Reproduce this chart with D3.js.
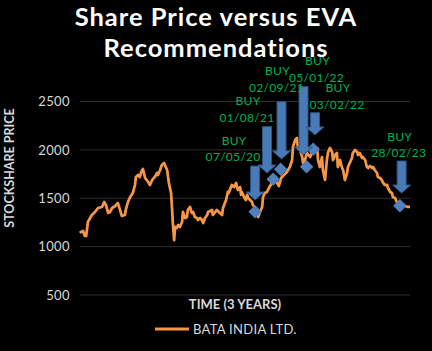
<!DOCTYPE html>
<html>
<head>
<meta charset="utf-8">
<script src="https://cdn.jsdelivr.net/npm/d3@7"></script>
<style>
  body { margin: 0; background: #000; }
  text { font-family: Lato, "Open Sans", sans-serif; }
</style>
</head>
<body>
<div id="chart"></div>
<script>
// trading day index over the 3 years and closing price
const tradingDay = [
  0, 2, 7, 11, 14, 18, 23, 27, 34, 41,
  50, 55, 59, 64, 68, 73, 80, 86, 91, 95,
  102, 105, 109, 114, 120, 125, 127, 132, 136, 139,
  143, 148, 155, 159, 164, 170, 175, 177, 182, 186,
  191, 195, 198, 202, 207, 209, 211, 214, 216, 220,
  223, 227, 232, 234, 239, 243, 245, 250, 254, 257,
  261, 266, 268, 273, 277, 280, 284, 289, 291, 300,
  302, 311, 318, 323, 325, 332, 336, 338, 345, 350,
  355, 357, 359, 364, 366, 368, 373, 377, 380, 382,
  391, 393, 398, 402, 405, 409, 414, 416, 420, 425,
  427, 432, 436, 441, 445, 448, 452, 457, 461, 466,
  470, 477, 482, 484, 489, 493, 495, 500, 505, 507,
  511, 516, 523, 530, 534, 539, 541, 545, 550, 552,
  557, 561, 564, 568, 573, 575, 580, 584, 586, 591,
  595, 598, 602, 607, 609, 614, 618, 620, 625, 630,
  632, 636, 641, 643, 648, 652, 655, 659, 664, 666,
  670, 675, 677, 682, 686, 689, 693, 698, 700, 705,
  709, 711, 716, 720, 723, 727, 732, 739, 745, 750
];
const price = [
  1141, 1151, 1162, 1110, 1110, 1255, 1296, 1327, 1358, 1399,
  1410, 1461, 1430, 1348, 1358, 1399, 1420, 1451, 1379, 1317,
  1327, 1399, 1461, 1513, 1554, 1637, 1720, 1740, 1720, 1771,
  1802, 1709, 1668, 1637, 1689, 1720, 1761, 1740, 1792, 1844,
  1864, 1823, 1792, 1658, 1554, 1410, 1244, 1068, 1203, 1193,
  1224, 1203, 1255, 1358, 1296, 1306, 1379, 1410, 1348, 1358,
  1306, 1296, 1275, 1296, 1275, 1244, 1296, 1327, 1358, 1379,
  1327, 1379, 1348, 1327, 1399, 1482, 1565, 1554, 1637, 1616,
  1658, 1616, 1585, 1616, 1534, 1565, 1513, 1482, 1534, 1503,
  1461, 1430, 1399, 1327, 1306, 1358, 1410, 1513, 1554, 1565,
  1585, 1627, 1658, 1689, 1709, 1658, 1627, 1709, 1730, 1751,
  1771, 1823, 1895, 2030, 2102, 2123, 2030, 1999, 1926, 1864,
  1895, 1968, 1926, 1999, 1978, 2019, 1895, 1823, 1926, 1792,
  1689, 1895, 1978, 2019, 1978, 1895, 1947, 1968, 1823, 1895,
  1823, 1792, 1689, 1761, 1823, 1875, 1916, 1968, 1999, 1978,
  1947, 1968, 1916, 1926, 1895, 1823, 1813, 1833, 1813, 1823,
  1792, 1761, 1720, 1709, 1689, 1658, 1637, 1637, 1606, 1565,
  1554, 1513, 1503, 1461, 1430, 1420, 1420, 1420, 1410, 1410
];

// EVA buy recommendations
const buyDates = ["07/05/20", "01/08/21", "02/09/21", "05/01/22", "03/02/22", "28/02/23"];
const buyDay = [398, 439, 456, 515, 530, 727];
const buyPrice = [1361, 1696, 1799, 1826, 2006, 1423];

const yTicks = [500, 1000, 1500, 2000, 2500];
const seriesName = "BATA INDIA LTD.";

// arrow placement for each call (trading day, top / tip in price units) and label offsets in px
const arrowLayout = [
  { day: 398, top: 1833, tip: 1482, dx: -22, dy: -9 },
  { day: 425, top: 2240, tip: 1761, dx: -20, dy: -9 },
  { day: 458, top: 2498, tip: 1906, dx: -5, dy: -14 },
  { day: 508, top: 2653, tip: 1947, dx: 13, dy: -9 },
  { day: 534, top: 2384, tip: 2154, dx: 22, dy: -8 },
  { day: 731, top: 1885, tip: 1554, dx: -3, dy: -8 }
];

const width = 432, height = 351;
const svg = d3.select("#chart").append("svg")
  .attr("width", width)
  .attr("height", height)
  .style("background", "#000");

const x = d3.scaleLinear().domain([0, 750]).range([80, 410]);
const y = d3.scaleLinear().domain([500, 2500]).range([295, 101.5]);

// gridlines
svg.append("g")
  .selectAll("line")
  .data(yTicks)
  .join("line")
  .attr("x1", 80).attr("x2", 410)
  .attr("y1", d => y(d)).attr("y2", d => y(d))
  .attr("stroke", "#2e2e2e")
  .attr("stroke-width", 1);

// y axis labels
const yAxis = svg.append("g")
  .attr("transform", "translate(80,0)")
  .call(d3.axisLeft(y).tickValues(yTicks).tickFormat(d3.format("d")).tickSize(0).tickPadding(10));
yAxis.select(".domain").remove();
yAxis.selectAll("text")
  .attr("fill", "#d9d9d9")
  .style("font-size", "13px")
  .style("letter-spacing", "0.4px")
  .style("font-family", "Lato, sans-serif");

// title
const titleLines = ["Share Price versus EVA", "Recommendations"];
svg.append("g")
  .selectAll("text")
  .data(titleLines)
  .join("text")
  .attr("x", 216)
  .attr("y", (d, i) => 26 + i * 31)
  .attr("text-anchor", "middle")
  .attr("fill", "#fff")
  .style("font-size", "25.5px")
  .style("letter-spacing", "1px")
  .style("font-weight", "bold")
  .text(d => d);

// price line
const points = tradingDay.map((d, i) => ({ day: d, price: price[i] }));
svg.append("path")
  .datum(points)
  .attr("fill", "none")
  .attr("stroke", "#f79646")
  .attr("stroke-width", 2.75)
  .attr("stroke-linejoin", "round")
  .attr("d", d3.line().x(d => x(d.day)).y(d => y(d.price)));

// buy markers
const buys = buyDates.map((d, i) => ({ date: d, day: buyDay[i], price: buyPrice[i] }));
svg.append("g")
  .selectAll("path")
  .data(buys)
  .join("path")
  .attr("transform", d => `translate(${x(d.day)},${y(d.price)}) rotate(45)`)
  .attr("d", d3.symbol().type(d3.symbolSquare).size(90))
  .attr("fill", "#4f81bd");

// arrows
function arrowPath(a) {
  const cx = x(a.day), t = y(a.top), b = y(a.tip);
  const sw = 4.5, hw = 9, hh = 8;
  return `M${cx - sw},${t} L${cx + sw},${t} L${cx + sw},${b - hh} L${cx + hw},${b - hh}
          L${cx},${b} L${cx - hw},${b - hh} L${cx - sw},${b - hh} Z`;
}
svg.append("g")
  .selectAll("path")
  .data(arrowLayout)
  .join("path")
  .attr("d", arrowPath)
  .attr("fill", "#4a7ab5")
  .attr("stroke", "#2f5584")
  .attr("stroke-width", 1);

// labels
const labels = svg.append("g")
  .selectAll("g")
  .data(buys)
  .join("g")
  .attr("transform", (d, i) => {
    const a = arrowLayout[i];
    return `translate(${x(a.day) + a.dx},${y(a.top) + a.dy})`;
  });
labels.append("text")
  .attr("text-anchor", "middle")
  .attr("dy", "0.35em")
  .attr("fill", "#00b050")
  .style("font-size", "12px")
  .style("letter-spacing", "0.3px")
  .text(d => d.date);
labels.append("text")
  .attr("text-anchor", "middle")
  .attr("x", 1)
  .attr("y", -16.5)
  .attr("dy", "0.35em")
  .attr("fill", "#00b050")
  .style("font-size", "12px")
  .style("letter-spacing", "0.3px")
  .text("BUY");

// axis titles
svg.append("text")
  .attr("x", 235).attr("y", 304)
  .attr("dy", "0.35em")
  .attr("text-anchor", "middle")
  .attr("fill", "#d9d9d9")
  .style("font-size", "13px")
  .style("font-weight", "bold")
  .text("TIME (3 YEARS)");

svg.append("text")
  .attr("transform", "translate(10,168) rotate(-90)")
  .attr("dy", "0.35em")
  .attr("text-anchor", "middle")
  .attr("fill", "#d9d9d9")
  .style("font-size", "12.5px")
  .style("font-weight", "bold")
  .text("STOCKSHARE PRICE");

// legend
svg.append("line")
  .attr("x1", 155).attr("x2", 189)
  .attr("y1", 329).attr("y2", 329)
  .attr("stroke", "#f79646")
  .attr("stroke-width", 3);
svg.append("text")
  .attr("x", 193).attr("y", 329)
  .attr("dy", "0.35em")
  .attr("fill", "#d9d9d9")
  .style("font-size", "13px")
  .style("letter-spacing", "0.3px")
  .text(seriesName);
</script>
</body>
</html>
